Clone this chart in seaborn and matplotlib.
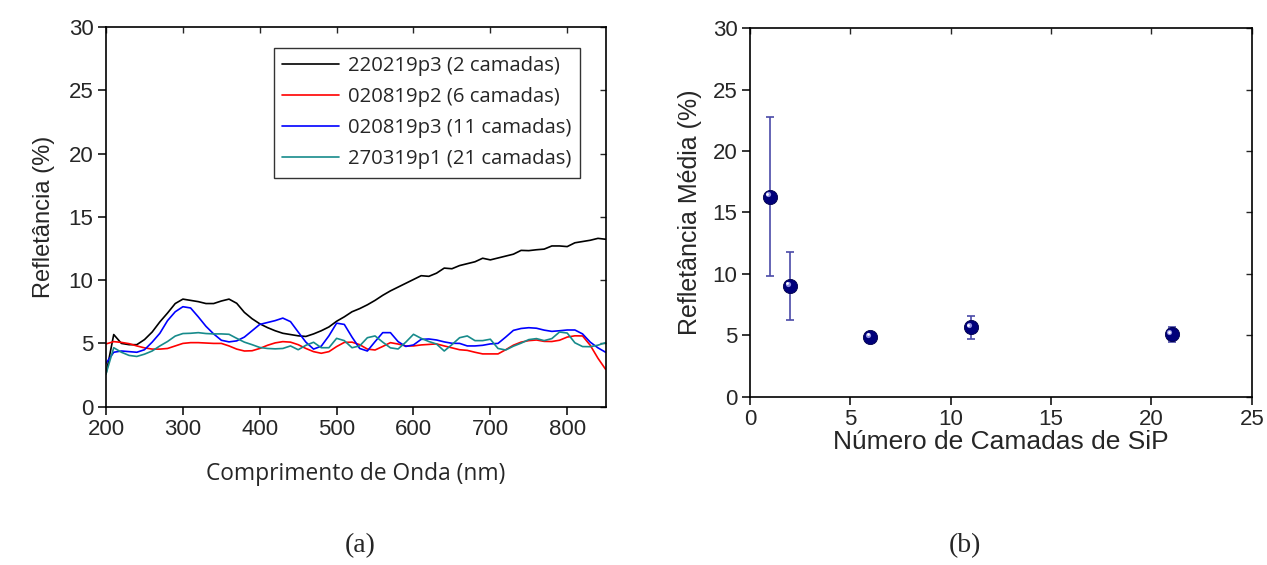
import numpy as np
import pandas as pd
import matplotlib
matplotlib.use("Agg")
import matplotlib.pyplot as plt
import matplotlib.transforms as mtransforms
import seaborn as sns

# ---------------- data ----------------
wavelength = list(range(200, 851, 10))

refl_2cam = [2.6, 5.7, 5.0, 4.9, 4.9, 5.3, 5.9, 6.7, 7.4, 8.15,
             8.5, 8.4, 8.3, 8.15, 8.15, 8.35, 8.5, 8.17, 7.45, 6.95,
             6.55, 6.25, 6.0, 5.8, 5.7, 5.6, 5.55, 5.75, 6.0, 6.3,
             6.75, 7.1, 7.5, 7.75, 8.05, 8.4, 8.8, 9.15, 9.45, 9.75,
             10.05, 10.35, 10.3, 10.55, 10.95, 10.9, 11.15, 11.3, 11.45, 11.73,
             11.6, 11.75, 11.9, 12.05, 12.35, 12.33, 12.4, 12.45, 12.7, 12.7,
             12.65, 12.95, 13.05, 13.15, 13.3, 13.23]

refl_6cam = [4.96, 5.14, 5.08, 4.98, 4.8, 4.65, 4.55, 4.55, 4.6, 4.8,
             5.0, 5.06, 5.06, 5.03, 5.0, 5.0, 4.8, 4.55, 4.4, 4.42,
             4.6, 4.85, 5.04, 5.14, 5.1, 4.9, 4.6, 4.35, 4.22, 4.35,
             4.75, 5.08, 5.1, 4.9, 4.55, 4.48, 4.76, 5.06, 4.95, 4.8,
             4.8, 4.88, 4.92, 4.96, 4.8, 4.65, 4.5, 4.45, 4.3, 4.17,
             4.17, 4.17, 4.5, 4.86, 5.1, 5.22, 5.27, 5.16, 5.15, 5.25,
             5.5, 5.6, 5.59, 4.85, 3.83, 2.95]

refl_11cam = [3.43, 4.3, 4.4, 4.35, 4.3, 4.5, 5.1, 5.8, 6.8, 7.5,
              7.9, 7.8, 7.1, 6.35, 5.75, 5.25, 5.12, 5.2, 5.5, 6.0,
              6.5, 6.65, 6.8, 7.0, 6.72, 5.9, 5.1, 4.55, 4.78, 5.6,
              6.6, 6.5, 5.5, 4.6, 4.4, 5.14, 5.85, 5.85, 5.14, 4.76,
              4.88, 5.32, 5.35, 5.27, 5.12, 5.01, 5.0, 4.8, 4.8, 4.85,
              4.96, 5.0, 5.5, 6.03, 6.18, 6.24, 6.2, 6.05, 5.95, 6.0,
              6.06, 6.06, 5.75, 5.1, 4.65, 4.3]

refl_21cam = [2.6, 4.66, 4.3, 4.05, 3.97, 4.15, 4.4, 4.8, 5.15, 5.58,
              5.78, 5.8, 5.85, 5.78, 5.75, 5.75, 5.72, 5.4, 5.1, 4.9,
              4.68, 4.6, 4.57, 4.6, 4.8, 4.5, 4.85, 5.09, 4.66, 4.66,
              5.4, 5.22, 4.66, 4.8, 5.45, 5.59, 5.1, 4.65, 4.56, 5.1,
              5.72, 5.4, 5.15, 4.95, 4.4, 4.9, 5.45, 5.59, 5.22, 5.22,
              5.33, 4.6, 4.48, 4.78, 5.02, 5.3, 5.38, 5.22, 5.38, 5.9,
              5.82, 5.05, 4.75, 4.74, 4.86, 5.06]

series_labels = ["220219p3 (2 camadas)", "020819p2 (6 camadas)",
                 "020819p3 (11 camadas)", "270319p1 (21 camadas)"]
series_colors = ["#000000", "#ff0000", "#0000ff", "#178b8b"]

n_camadas = [1, 2, 6, 11, 21]
refl_media = [16.3, 9.0, 4.84, 5.65, 5.08]
refl_erro = [6.5, 2.75, 0.2, 0.95, 0.6]

# ---------------- style ----------------
sns.set_style("white")
plt.rcParams["font.family"] = ["Liberation Sans", "DejaVu Sans"]
plt.rcParams["axes.linewidth"] = 1.2

fig = plt.figure(figsize=(12.67, 5.65), dpi=100)
axA = fig.add_axes([0.0837, 0.2802, 0.478 - 0.0837, 0.9522 - 0.2802])
axB = fig.add_axes([0.592, 0.2979, 0.988 - 0.592, 0.9499 - 0.2979])

# ---------------- panel (a) ----------------
frames = []
for lab, vals in zip(series_labels, [refl_2cam, refl_6cam, refl_11cam, refl_21cam]):
    frames.append(pd.DataFrame({"wl": wavelength, "R": vals, "amostra": lab}))
dfA = pd.concat(frames, ignore_index=True)

sns.lineplot(data=dfA, x="wl", y="R", hue="amostra", hue_order=series_labels,
             palette=series_colors, linewidth=1.2, ax=axA, legend=True)
axA.set_xlim(200, 850)
axA.set_ylim(0, 30)
axA.set_xticks(range(200, 801, 100))
axA.set_yticks(range(0, 31, 5))
axA.set_xlabel("Comprimento de Onda (nm)", family=["Open Sans", "DejaVu Sans"],
               fontsize=16.4, labelpad=16)
axA.set_ylabel("Refletância (%)", fontsize=17, labelpad=10)
leg = axA.legend(loc="upper right", bbox_to_anchor=(0.948, 0.945), borderaxespad=0,
                 prop={"family": "Open Sans", "size": 14.6}, frameon=True,
                 fancybox=False, framealpha=1, edgecolor="#333333",
                 handlelength=2.8, handletextpad=0.45, labelspacing=0.55,
                 borderpad=0.4)
leg.get_frame().set_linewidth(1.0)
for h in leg.get_lines():
    h.set_linewidth(1.2)

# ---------------- panel (b) ----------------
dfB = pd.DataFrame({"n": n_camadas, "R": refl_media, "err": refl_erro})
axB.errorbar(dfB["n"], dfB["R"], yerr=dfB["err"], fmt="none", ecolor="#4a4aa8",
             elinewidth=1.2, capsize=2.9, capthick=1.2, zorder=2)
sns.scatterplot(data=dfB, x="n", y="R", ax=axB, s=105, color="#00007a",
                edgecolor="#00004a", linewidth=0.6, zorder=3, legend=False)
hl = mtransforms.offset_copy(axB.transData, fig=fig, x=-1.6, y=1.6, units="points")
axB.scatter(dfB["n"], dfB["R"], s=14, color="#8f8fe0", linewidths=0,
            transform=hl, zorder=4)
hl2 = mtransforms.offset_copy(axB.transData, fig=fig, x=-2.0, y=2.0, units="points")
axB.scatter(dfB["n"], dfB["R"], s=4, color="#ffffff", linewidths=0,
            transform=hl2, zorder=5)
axB.set_xlim(0, 25)
axB.set_ylim(0, 30)
axB.set_xticks(range(0, 26, 5))
axB.set_yticks(range(0, 31, 5))
axB.set_xlabel("Número de Camadas de SiP", fontsize=19, labelpad=0)
axB.set_ylabel("Refletância Média (%)", fontsize=18, labelpad=8)

# ---------------- ticks / spines ----------------
for ax in (axA, axB):
    for sp in ax.spines.values():
        sp.set_visible(True)
        sp.set_color("black")
        sp.set_linewidth(1.2)
    ax.tick_params(axis="both", which="major", direction="out", length=6,
                   width=1.1, labelsize=16, color="black", pad=3,
                   bottom=True, left=True)
    top = ax.secondary_xaxis("top")
    top.set_xticks(ax.get_xticks())
    top.tick_params(direction="in", length=4, width=1.0, labeltop=False)
    top.spines["top"].set_visible(False)
    right = ax.secondary_yaxis("right")
    right.set_yticks(ax.get_yticks())
    right.tick_params(direction="in", length=4, width=1.0, labelright=False)
    right.spines["right"].set_visible(False)

fig.text(0.2842, 0.012, "(a)", family=["Liberation Serif"], fontsize=20,
         ha="center", va="bottom")
fig.text(0.7617, 0.012, "(b)", family=["Liberation Serif"], fontsize=20,
         ha="center", va="bottom")

fig.savefig("out.png", dpi=100)
